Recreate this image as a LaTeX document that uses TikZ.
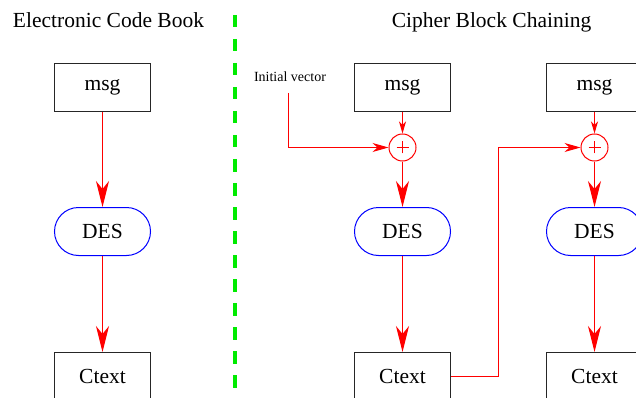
\documentclass[tikz,border=0pt]{standalone}
\usepackage{fontspec}
\setmainfont{Liberation Serif}
\usetikzlibrary{arrows.meta}
\definecolor{dashgreen}{RGB}{0,235,0}
\tikzset{
  blk/.style={draw=black!85, line width=1pt, minimum width=96pt, minimum height=48pt, inner sep=0pt, font=\fontsize{21.5}{24}\selectfont},
  desbox/.style={draw=blue, line width=1pt, rounded corners=24pt, minimum width=96pt, minimum height=48pt, inner sep=0pt, font=\fontsize{21.5}{24}\selectfont},
  xorc/.style={draw=red, line width=1pt, circle, minimum size=27pt, inner sep=0pt,
    path picture={\draw[red, line width=1pt] ([xshift=-6pt]path picture bounding box.center) -- ([xshift=6pt]path picture bounding box.center)
      ([yshift=-6pt]path picture bounding box.center) -- ([yshift=6pt]path picture bounding box.center);}},
  title/.style={anchor=base, inner sep=0pt, font=\fontsize{21.5}{24}\selectfont},
  bigarr/.style={red, line width=1pt, -{Stealth[length=26pt, width=13pt, inset=8pt]}},
  smallarr/.style={red, line width=1pt, -{Stealth[length=12pt, width=7pt, inset=3.5pt]}},
  midarr/.style={red, line width=1pt, -{Stealth[length=16pt, width=9pt, inset=5pt]}},
}
\begin{document}
\begin{tikzpicture}[x=1pt, y=-1pt]
\useasboundingbox (0,0) rectangle (636,398);
\clip (0,0) rectangle (636,398);
% titles
\node[title] (t1) at (108.5,28) {Electronic Code Book};
\node[title] (t2) at (491.5,28) {Cipher Block Chaining};
% separator
\coordinate (g1) at (235,15);
\coordinate (g2) at (235,400);
\draw[dashgreen, line width=4pt, dash pattern=on 12.5pt off 11.5pt] (g1) -- (g2);
% ECB
\node[blk] (m1) at (102.5,87.5) {msg};
\node[desbox] (d1) at (102.5,231.5) {DES};
\node[blk] (c1) at (102.5,376.5) {Ctext};
\draw[bigarr] (m1) -- (d1);
\draw[bigarr] (d1) -- (c1);
% CBC column 1
\node[blk] (m2) at (402.5,87.5) {msg};
\node[xorc] (x2) at (402.5,147.5) {};
\node[desbox] (d2) at (402.5,231.5) {DES};
\node[blk] (c2) at (402.5,376.5) {Ctext};
\draw[smallarr] (m2) -- (x2);
\draw[bigarr] (x2) -- (d2);
\draw[bigarr] (d2) -- (c2);
\node[inner sep=0pt, anchor=base, font=\fontsize{14}{16}\selectfont] (iv) at (290,82) {Initial vector};
\coordinate (ivs) at (288.5,93);
\draw[midarr] (ivs) |- (x2);
% CBC column 2
\node[blk] (m3) at (594.5,87.5) {msg};
\node[xorc] (x3) at (594.5,147.5) {};
\node[desbox] (d3) at (594.5,231.5) {DES};
\node[blk] (c3) at (594.5,376.5) {Ctext};
\draw[smallarr] (m3) -- (x3);
\draw[bigarr] (x3) -- (d3);
\draw[bigarr] (d3) -- (c3);
\coordinate (k) at (498.5,147.5);
\draw[midarr] (c2.east) -| (k) -- (x3);
\end{tikzpicture}
\end{document}
